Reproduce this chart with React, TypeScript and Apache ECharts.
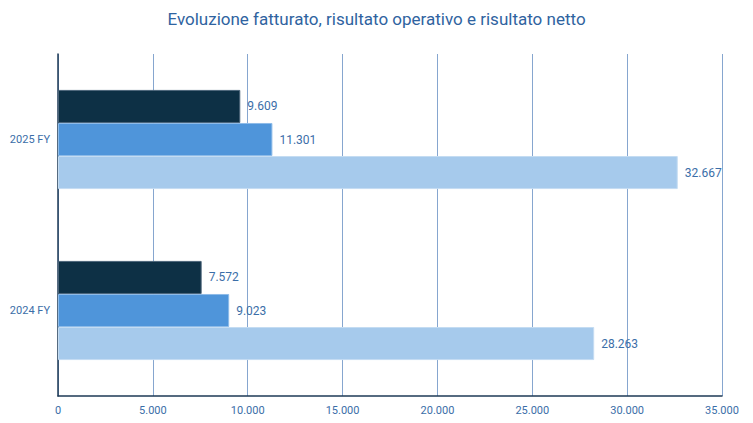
import React, { useEffect, useRef } from "react";
import * as echarts from "echarts";

const categories = ["2024 FY", "2025 FY"];
const fatturato = [28263, 32667];
const risultatoOperativo = [9023, 11301];
const risultatoNetto = [7572, 9609];
const xTicks = { min: 0, max: 35000, interval: 5000 };

const fmt = (v: number) => String(Math.round(v)).replace(/\B(?=(\d{3})+(?!\d))/g, ".");

const textColor = "#3B6EA8";

export default function App() {
  const ref = useRef<HTMLDivElement>(null);
  useEffect(() => {
    if (!ref.current) return;
    const chart = echarts.init(ref.current, null, { renderer: "svg" });
    const label = {
      show: true,
      position: "right" as const,
      distance: 7,
      color: textColor,
      fontSize: 12,
      fontFamily: "Roboto, sans-serif",
      formatter: (p: any) => fmt(p.value),
    };
    chart.setOption({
      animation: false,
      backgroundColor: "#ffffff",
      title: {
        text: "Evoluzione fatturato, risultato operativo e risultato netto",
        left: "center",
        top: 5,
        textStyle: {
          color: "#2F63A0",
          fontSize: 17,
          fontWeight: "normal",
          fontFamily: "Roboto, sans-serif",
        },
      },
      grid: { left: 58, right: 31, top: 54, bottom: 27, containLabel: false },
      xAxis: {
        type: "value",
        min: xTicks.min,
        max: xTicks.max,
        interval: xTicks.interval,
        axisLine: { show: true, lineStyle: { color: "#1E3A56", width: 1.5 } },
        axisTick: { show: false },
        splitLine: { show: true, lineStyle: { color: "#86A6CF", width: 1 } },
        axisLabel: {
          color: textColor,
          fontSize: 11,
          margin: 9,
          fontFamily: "Roboto, sans-serif",
          formatter: (v: number) => fmt(v),
        },
      },
      yAxis: {
        type: "category",
        data: categories,
        axisLine: { show: true, lineStyle: { color: "#1E3A56", width: 1.5 } },
        axisTick: { show: false },
        axisLabel: {
          color: textColor,
          fontSize: 11,
          margin: 8,
          fontFamily: "Roboto, sans-serif",
        },
      },
      series: [
        {
          name: "Risultato netto",
          type: "bar",
          data: risultatoNetto,
          barGap: "0%",
          barCategoryGap: "42%",
          itemStyle: { color: "#0D3045", borderColor: "#4A6378", borderWidth: 1 },
          label,
        },
        {
          name: "Risultato operativo",
          type: "bar",
          data: risultatoOperativo,
          itemStyle: { color: "#4F95DA", borderColor: "#8DBBE8", borderWidth: 1 },
          label,
        },
        {
          name: "Fatturato",
          type: "bar",
          data: fatturato,
          itemStyle: { color: "#A6CAEC", borderColor: "#C4DCF2", borderWidth: 1 },
          label,
        },
      ],
    });
    return () => chart.dispose();
  }, []);
  return (
    <div
      ref={ref}
      style={{ position: "fixed", left: 0, top: 0, width: 753, height: 423, background: "#fff" }}
    />
  );
}
